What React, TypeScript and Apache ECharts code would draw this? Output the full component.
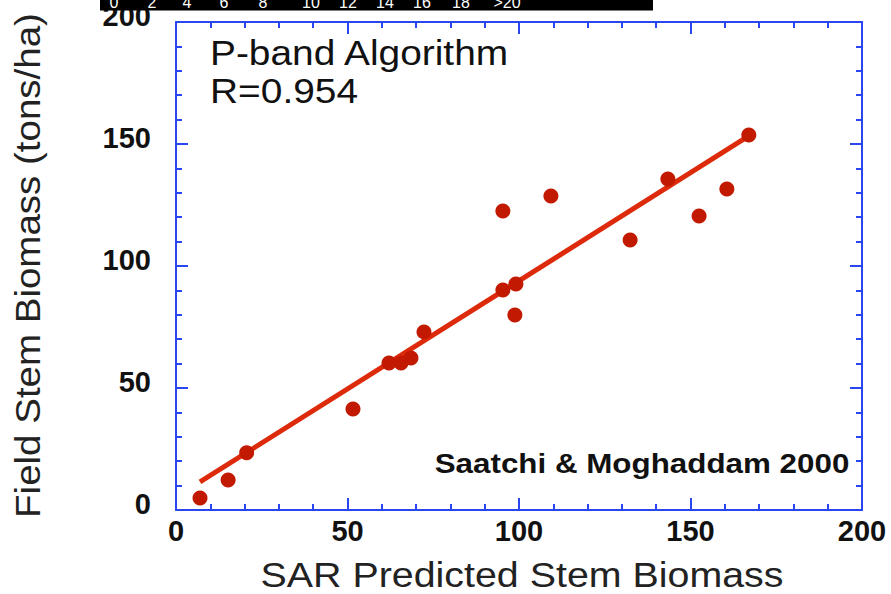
import React, { useEffect, useRef } from "react";
import * as echarts from "echarts";

const sarPredicted = [7, 15.2, 20.6, 51.6, 62.1, 65.6, 68.5, 72.3, 95.3, 95.3, 99.1, 98.8, 109.3, 132.4, 143.4, 152.5, 160.6, 167];
const fieldBiomass = [4.9, 12.3, 23.5, 41.4, 60.2, 60.2, 62.3, 73, 122.5, 90.2, 92.6, 79.9, 128.7, 110.7, 135.7, 120.5, 131.6, 153.7];
const fitLineX = [7, 167];
const fitLineY = [11.5, 153.3];
const colorBarLabels = ["0", "2", "4", "6", "8", "10", "12", "14", "16", "18", ">20"];
const colorBarLabelX = [114, 152, 187, 224, 263, 311, 348, 385, 422, 461, 507];

const AXIS_BLUE = "#2946f0";
const FONT = "'Liberation Sans', Arial, Helvetica, sans-serif";

export default function App() {
  const ref = useRef<HTMLDivElement>(null);
  useEffect(() => {
    if (!ref.current) return;
    const chart = echarts.init(ref.current, null, { renderer: "svg" });
    const axisCommon = {
      type: "value" as const,
      min: 0,
      max: 200,
      interval: 50,
      axisLine: { show: true, onZero: false, lineStyle: { color: AXIS_BLUE, width: 2 } },
      axisTick: { show: true, inside: true, length: 12, lineStyle: { color: AXIS_BLUE, width: 2 } },
      minorTick: { show: true, splitNumber: 5, length: 6, lineStyle: { color: AXIS_BLUE, width: 2 } },
      splitLine: { show: false },
      minorSplitLine: { show: false },
    };
    const labelStyle = { color: "#111", fontFamily: FONT, fontWeight: "bold" as const, fontSize: 29 };
    const graphics: any[] = [
      { type: "rect", z: 100, shape: { x: 100, y: 0, width: 553, height: 10.5 }, style: { fill: "#000" } },
      ...colorBarLabels.map((t, i) => ({
        type: "text", z: 101, x: colorBarLabelX[i], y: 2.5,
        style: { text: t, fill: "#fff", font: `16px ${FONT}`, align: "center", verticalAlign: "middle" },
      })),
      { type: "text", z: 50, x: 210, y: 52.5, scaleX: 1.08, style: { text: "P-band Algorithm", fill: "#111", font: `36px ${FONT}`, align: "left", verticalAlign: "middle" } },
      { type: "text", z: 50, x: 210, y: 90.2, scaleX: 1.08, style: { text: "R=0.954", fill: "#111", font: `36px ${FONT}`, align: "left", verticalAlign: "middle" } },
      { type: "text", z: 50, x: 642, y: 463.6, scaleX: 1.12, style: { text: "Saatchi & Moghaddam 2000", fill: "#111", font: `bold 28px ${FONT}`, align: "center", verticalAlign: "middle" } },
      { type: "text", z: 50, x: 522, y: 575, scaleX: 1.125, style: { text: "SAR Predicted Stem Biomass", fill: "#222", font: `35px ${FONT}`, align: "center", verticalAlign: "middle" } },
      { type: "text", z: 50, x: 28, y: 265.5, rotation: Math.PI / 2, scaleX: 1.1, style: { text: "Field Stem Biomass (tons/ha)", fill: "#222", font: `35px ${FONT}`, align: "center", verticalAlign: "middle" } },
    ];
    chart.setOption({
      animation: false,
      backgroundColor: "#fff",
      grid: { left: 176, top: 22, width: 686, height: 488, containLabel: false },
      xAxis: [
        { ...axisCommon, position: "bottom", axisLabel: { ...labelStyle, margin: 6 } },
        { ...axisCommon, position: "top", axisLabel: { show: false } },
      ],
      yAxis: [
        { ...axisCommon, position: "left", axisLabel: { ...labelStyle, margin: 25, verticalAlign: "bottom", lineHeight: 12 } },
        { ...axisCommon, position: "right", axisLabel: { show: false } },
      ],
      series: [
        {
          type: "line",
          data: fitLineX.map((x, i) => [x, fitLineY[i]]),
          showSymbol: false,
          symbol: "none",
          lineStyle: { color: "#dd2a0a", width: 5 },
          z: 2,
        },
        {
          type: "scatter",
          data: sarPredicted.map((x, i) => [x, fieldBiomass[i]]),
          symbolSize: 15,
          itemStyle: { color: "#c21a00", opacity: 1 },
          z: 3,
        },
      ],
      graphic: graphics,
    });
    return () => chart.dispose();
  }, []);
  return <div ref={ref} style={{ position: "absolute", left: 0, top: 0, width: 891, height: 594 }} />;
}
